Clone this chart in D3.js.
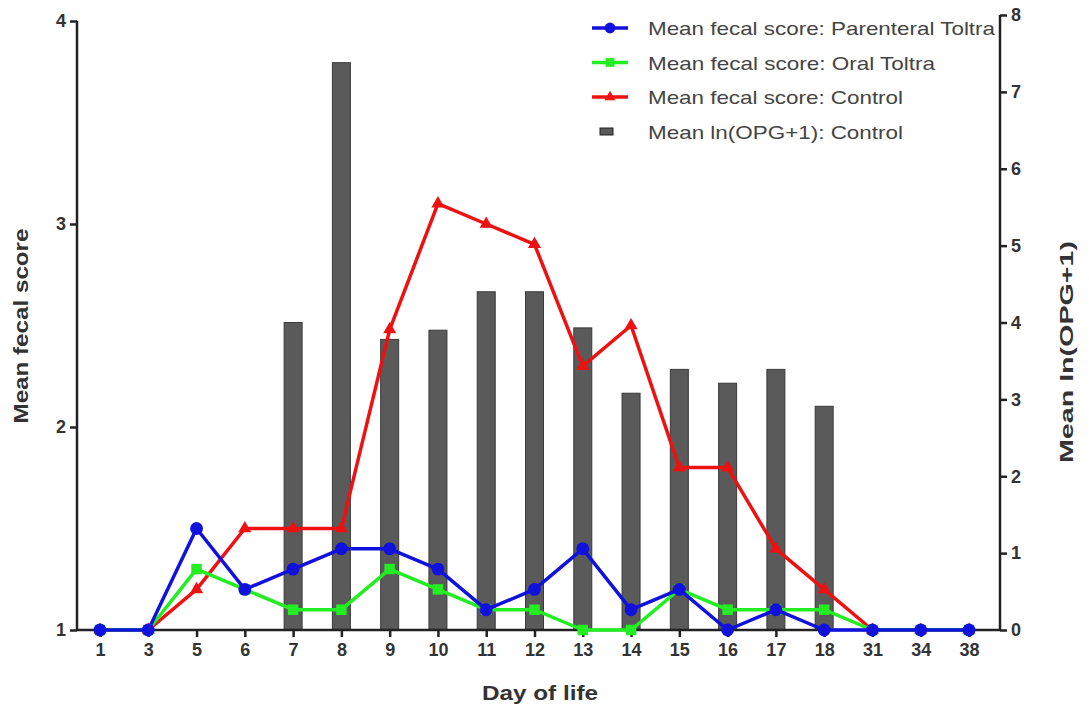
<!DOCTYPE html>
<html>
<head>
<meta charset="utf-8">
<script src="https://cdn.jsdelivr.net/npm/d3@7"></script>
<style>
  body { margin: 0; background: #fff; }
  text { font-family: "Liberation Sans", Arial, sans-serif; }
</style>
</head>
<body>
<svg width="1089" height="714"></svg>
<script>
var width = 1089;
var height = 714;

// data
var days = ["1", "3", "5", "6", "7", "8", "9", "10", "11", "12", "13", "14", "15", "16", "17", "18", "31", "34", "38"];
var parenteral = [1, 1, 1.5, 1.2, 1.3, 1.4, 1.4, 1.3, 1.1, 1.2, 1.4, 1.1, 1.2, 1.0, 1.1, 1.0, 1, 1, 1];
var oral = [1, 1, 1.3, 1.2, 1.1, 1.1, 1.3, 1.2, 1.1, 1.1, 1.0, 1.0, 1.2, 1.1, 1.1, 1.1, 1, 1, 1];
var control = [1, 1, 1.2, 1.5, 1.5, 1.5, 2.48, 3.1, 3.0, 2.9, 2.3, 2.5, 1.8, 1.8, 1.4, 1.2, 1, 1, 1];
var opg = [0, 0, 0, 0, 4.0, 7.38, 3.78, 3.9, 4.4, 4.4, 3.93, 3.08, 3.39, 3.21, 3.39, 2.91, 0, 0, 0];
var leftTicks = [1, 2, 3, 4];
var rightTicks = [0, 1, 2, 3, 4, 5, 6, 7, 8];

var svg = d3.select("svg");

var x = d3.scalePoint().domain(days).range([100, 969]);
var yL = d3.scaleLinear().domain([1, 4]).range([630, 21]);
var yR = d3.scaleLinear().domain([0, 8]).range([630, 15]);

// bars (right axis)
var barW = 18;
svg.append("g").selectAll("rect")
    .data(days.map(function (d, i) { return { day: d, v: opg[i] }; }).filter(function (d) { return d.v > 0; }))
    .enter()
    .append("rect")
    .attr("x", function (d) { return x(d.day) - barW / 2; })
    .attr("y", function (d) { return yR(d.v); })
    .attr("width", barW)
    .attr("height", function (d) { return yR(0) - yR(d.v); })
    .attr("fill", "#5a5a5a")
    .attr("stroke", "#3a3a3a")
    .attr("stroke-width", 1);

// axes
function styleAxis(g) {
    g.selectAll("path, line").attr("stroke", "#222").attr("stroke-width", 2.5);
    g.selectAll("text")
        .attr("font-size", "18px")
        .attr("font-weight", "bold")
        .attr("fill", "#333")
        .style("font-family", "'Liberation Sans', Arial, sans-serif");
}

var xAxis = d3.axisBottom(x).tickSize(7).tickPadding(6).tickSizeOuter(0);
var gx = svg.append("g").attr("transform", "translate(0,630)").call(xAxis);
gx.select(".domain").attr("d", "M77,0H1000");
styleAxis(gx);

var gl = svg.append("g").attr("transform", "translate(77,0)")
    .call(d3.axisLeft(yL).tickValues(leftTicks).tickFormat(d3.format("d")).tickSize(7).tickPadding(4).tickSizeOuter(0));
gl.select(".domain").attr("d", "M0,630V21");
styleAxis(gl);

var gr = svg.append("g").attr("transform", "translate(1000,0)")
    .call(d3.axisRight(yR).tickValues(rightTicks).tickFormat(d3.format("d")).tickSize(7).tickPadding(4).tickSizeOuter(0));
gr.select(".domain").attr("d", "M0,630V15");
styleAxis(gr);

// lines
var series = [
    { name: "Mean fecal score: Control", vals: control, color: "#ee1111", shape: d3.symbolTriangle, size: 75, textW: 255 },
    { name: "Mean fecal score: Oral Toltra", vals: oral, color: "#22ee22", shape: d3.symbolSquare, size: 110, textW: 287 },
    { name: "Mean fecal score: Parenteral Toltra", vals: parenteral, color: "#1111dd", shape: d3.symbolCircle, size: 130, textW: 347 }
];

var line = d3.line()
    .x(function (d) { return x(d.day); })
    .y(function (d) { return yL(d.v); });

series.forEach(function (s) {
    var pts = days.map(function (d, i) { return { day: d, v: s.vals[i] }; });
    svg.append("path")
        .datum(pts)
        .attr("d", line)
        .attr("fill", "none")
        .attr("stroke", s.color)
        .attr("stroke-width", 3.5)
        .attr("stroke-linejoin", "round");
    svg.append("g").selectAll("path")
        .data(pts)
        .enter()
        .append("path")
        .attr("d", d3.symbol().type(s.shape).size(s.size))
        .attr("transform", function (d) { return "translate(" + x(d.day) + "," + yL(d.v) + ")"; })
        .attr("fill", s.color);
});

// legend
var legendItems = [series[2], series[1], series[0]];
var leg = svg.append("g");
legendItems.forEach(function (s, i) {
    var ly = 28 + i * 34.5;
    leg.append("line")
        .attr("x1", 592).attr("x2", 628).attr("y1", ly).attr("y2", ly)
        .attr("stroke", s.color).attr("stroke-width", 3.5);
    leg.append("path")
        .attr("d", d3.symbol().type(s.shape).size(s.size * 0.7))
        .attr("transform", "translate(610," + ly + ")")
        .attr("fill", s.color);
    leg.append("text")
        .attr("x", 648).attr("y", ly + 7)
        .attr("font-size", "19px")
        .attr("textLength", s.textW)
        .attr("lengthAdjust", "spacingAndGlyphs")
        .attr("fill", "#444")
        .text(s.name);
});
leg.append("rect")
    .attr("x", 600).attr("y", 128).attr("width", 13).attr("height", 7)
    .attr("fill", "#5a5a5a").attr("stroke", "#222");
leg.append("text")
    .attr("x", 648).attr("y", 139)
    .attr("font-size", "19px")
    .attr("textLength", 255)
    .attr("lengthAdjust", "spacingAndGlyphs")
    .attr("fill", "#444")
    .text("Mean ln(OPG+1): Control");

// axis titles
svg.append("text")
    .attr("x", 540).attr("y", 700)
    .attr("text-anchor", "middle")
    .attr("font-size", "21px").attr("font-weight", "bold").attr("fill", "#333")
    .attr("textLength", 116).attr("lengthAdjust", "spacingAndGlyphs")
    .text("Day of life");
svg.append("text")
    .attr("transform", "translate(28,326) rotate(-90)")
    .attr("text-anchor", "middle")
    .attr("font-size", "21px").attr("font-weight", "bold").attr("fill", "#333")
    .attr("textLength", 195).attr("lengthAdjust", "spacingAndGlyphs")
    .text("Mean fecal score");
svg.append("text")
    .attr("transform", "translate(1073,352) rotate(-90)")
    .attr("text-anchor", "middle")
    .attr("font-size", "19px").attr("font-weight", "bold").attr("fill", "#333")
    .attr("textLength", 222).attr("lengthAdjust", "spacingAndGlyphs")
    .text("Mean ln(OPG+1)");
</script>
</body>
</html>
